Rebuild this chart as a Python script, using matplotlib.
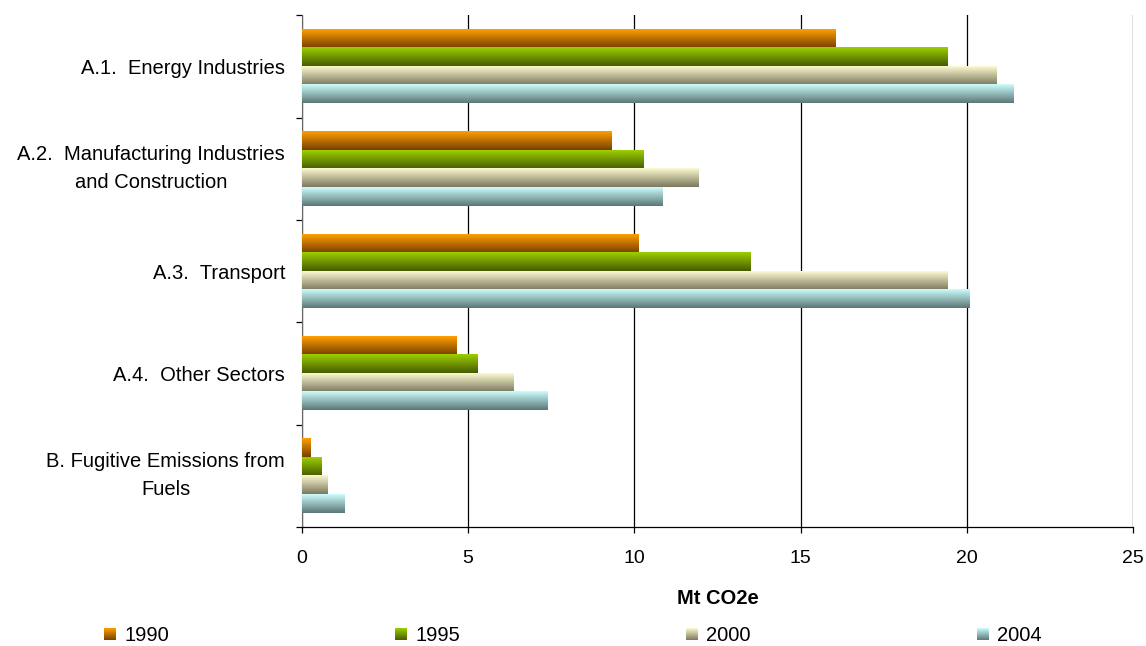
import numpy as np
import matplotlib.pyplot as plt
from matplotlib.colors import LinearSegmentedColormap, to_rgb
from matplotlib.patches import Rectangle
from matplotlib.legend_handler import HandlerBase

plt.rcParams['font.family'] = ['Liberation Sans', 'DejaVu Sans']

# data (Mt CO2e)
categories = ["A.1.  Energy Industries",
              "A.2.  Manufacturing Industries\nand Construction",
              "A.3.  Transport",
              "A.4.  Other Sectors",
              "B. Fugitive Emissions from\nFuels"]
years = ["1990", "1995", "2000", "2004"]
v1990 = [16.03, 9.30, 10.12, 4.64, 0.25]
v1995 = [19.40, 10.26, 13.48, 5.27, 0.58]
v2000 = [20.88, 11.92, 19.40, 6.35, 0.76]
v2004 = [21.39, 10.83, 20.07, 7.37, 1.27]
x_ticks = [0, 5, 10, 15, 20, 25]

# gradient colours, top -> bottom
grad_colors = [("#FF9E00", "#774000"),
               ("#9CCF00", "#465C00"),
               ("#FCFAD0", "#7C785E"),
               ("#CCFCFC", "#5B7777")]


class GradHandler(HandlerBase):
    # legend key drawn as small stack of stripes, light at top
    def create_artists(self, legend, orig_handle, xdescent, ydescent,
                       width, height, fontsize, trans):
        top, bot = orig_handle
        top, bot = np.array(to_rgb(top)), np.array(to_rgb(bot))
        n = 12
        arts = []
        for k in range(n):
            t = (k + 0.5) / n
            col = top * t + bot * (1 - t)
            r = Rectangle((-xdescent, -ydescent + height * k / n), width, height / n,
                          facecolor=col, edgecolor='none', transform=trans)
            arts.append(r)
        return arts


series = [v1990, v1995, v2000, v2004]

fig = plt.figure(figsize=(11.46, 6.46), dpi=100)
ax = fig.add_axes([0.2633, 0.1842, 0.7256, 0.7921])

y = np.arange(len(categories))
bar_h = 0.18
grad = np.linspace(0, 1, 64).reshape(-1, 1)

for i, vals in enumerate(series):
    top, bot = grad_colors[i]
    cmap = LinearSegmentedColormap.from_list("g%d" % i, [top, bot])
    bars = ax.barh(y + (i - 1.5) * bar_h, vals, height=bar_h, color=top,
                   linewidth=0, zorder=2)
    for b in bars:
        x0, y0 = b.get_x(), b.get_y()
        w, h = b.get_width(), b.get_height()
        ax.imshow(grad, cmap=cmap, extent=[x0, x0 + w, y0 + h, y0],
                  aspect='auto', origin='upper', zorder=3,
                  interpolation='bilinear')

ax.set_xlim(0, 25)
ax.set_ylim(len(categories) - 0.5, -0.5)
ax.set_aspect('auto')

ax.set_xticks(x_ticks)
ax.set_xticklabels([str(t) for t in x_ticks])
ax.xaxis.grid(True, color='black', linewidth=0.9)
ax.set_axisbelow(True)
ax.tick_params(axis='x', direction='out', length=4, width=0.9, pad=12.5,
               labelsize=14)

ax.set_yticks(np.arange(-0.5, len(categories), 1))
ax.set_yticklabels([])
ax.set_yticks(y, minor=True)
ax.set_yticklabels(categories, minor=True)
ax.tick_params(axis='y', which='major', direction='out', length=4, width=0.9)
ax.tick_params(axis='y', which='minor', length=0, pad=12, labelsize=14.5)
for lab in ax.get_yticklabels(minor=True):
    lab.set_multialignment('center')
    if "\n" in lab.get_text():
        lab.set_verticalalignment('center')
    lab.set_linespacing(1.6)

ax.spines['top'].set_visible(False)
ax.spines['right'].set_visible(False)
ax.spines['left'].set_color('#666666')
ax.spines['bottom'].set_linewidth(0.9)

ax.set_xlabel("Mt CO2e", fontsize=14.5, fontweight='bold', labelpad=16)

fig.legend(grad_colors, years, handler_map={tuple: GradHandler()},
           ncol=4, mode='expand', loc='center',
           bbox_to_anchor=(0.082, 0.0, 0.836, 0.0325), frameon=False,
           fontsize=14.5, handlelength=0.6, handleheight=0.6,
           handletextpad=0.4, borderpad=0.0)

fig.savefig("out.png", dpi=100)
